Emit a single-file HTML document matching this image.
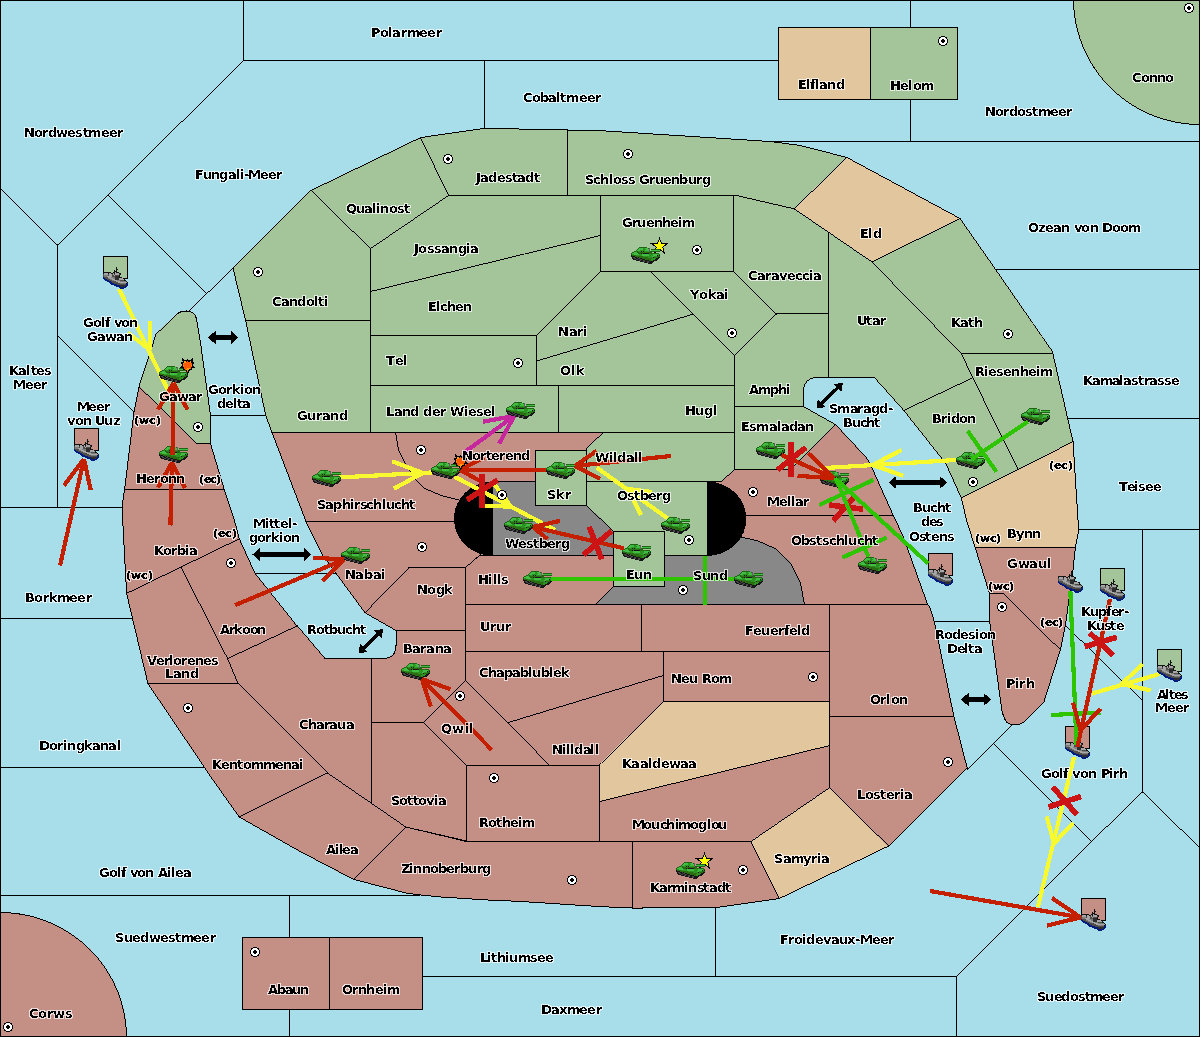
<!DOCTYPE html>
<html lang="de"><head><meta charset="utf-8"><title>Karte</title>
<style>
html,body{margin:0;padding:0;background:#a8ddea;overflow:hidden}
svg{display:block}
.b{stroke:#000;stroke-width:1;stroke-linejoin:miter;shape-rendering:crispEdges}
.sl{fill:none;stroke:#000;stroke-width:1;shape-rendering:crispEdges}
.t{font-family:"DejaVu Sans","Liberation Sans",sans-serif;font-stretch:normal;font-weight:bold;font-size:13px;}
.ts{font-family:"DejaVu Sans","Liberation Sans",sans-serif;font-stretch:normal;font-weight:bold;font-size:11px;}
.lb{fill:#000;filter:url(#lf)}
.lb2{fill:#000;filter:url(#lf2)}
.ar{fill:none;stroke-width:4.2;stroke-linecap:butt;shape-rendering:crispEdges}
.cx{fill:none;stroke:#cc1414;stroke-width:5.6;shape-rendering:crispEdges}
</style></head><body>
<svg width="1200" height="1037" viewBox="0 0 1200 1037">
<defs>
<g id="tk" shape-rendering="crispEdges"><path fill="#1e6414" d="M8,0h8v1h-8zM7,1h1v1h-1zM17,1h1v1h-1zM6,2h1v1h-1zM20,2h9v1h-9zM5,3h1v1h-1zM3,4h2v1h-2zM6,4h1v1h-1zM19,4h10v1h-10zM1,5h2v1h-2zM6,5h1v1h-1zM18,5h3v1h-3zM0,6h1v1h-1zM7,6h2v1h-2zM24,6h4v1h-4zM0,7h1v1h-1zM28,7h1v1h-1zM26,9h3v1h-3z"/><path fill="#42bd44" d="M8,1h4v1h-4zM14,1h3v1h-3zM7,2h5v1h-5zM15,2h3v1h-3zM6,3h3v1h-3zM14,3h4v1h-4zM20,3h9v1h-9zM3,5h3v1h-3zM1,6h6v1h-6zM3,7h5v1h-5zM11,7h7v1h-7zM22,7h5v1h-5zM11,8h7v1h-7zM22,8h4v1h-4zM21,9h2v1h-2z"/><path fill="#2c9222" d="M12,1h2v1h-2zM12,2h3v1h-3zM9,3h5v1h-5zM5,4h1v1h-1zM7,4h3v1h-3zM11,4h1v1h-1zM13,4h5v1h-5zM1,7h2v1h-2zM8,7h3v1h-3zM18,7h4v1h-4zM27,7h1v1h-1zM5,8h6v1h-6zM18,8h4v1h-4zM27,8h1v1h-1zM12,9h9v1h-9zM23,9h3v1h-3zM17,10h5v1h-5zM21,11h4v1h-4zM20,12h4v1h-4zM20,13h2v1h-2z"/><path fill="#6b5b6b" d="M18,1h1v1h-1zM18,2h1v1h-1zM18,3h1v1h-1zM18,4h1v1h-1z"/><path fill="#17171a" d="M10,4h1v1h-1zM12,4h1v1h-1zM10,6h1v1h-1zM12,6h6v1h-6zM0,8h1v1h-1zM26,8h1v1h-1zM28,8h1v1h-1zM0,9h4v1h-4zM1,10h1v1h-1zM4,10h2v1h-2zM7,10h1v1h-1zM22,10h1v1h-1zM27,10h2v1h-2zM1,11h2v1h-2zM5,11h2v1h-2zM9,11h2v1h-2zM25,11h3v1h-3zM2,12h3v1h-3zM7,12h2v1h-2zM11,12h3v1h-3zM24,12h3v1h-3zM5,13h3v1h-3zM10,13h2v1h-2zM14,13h4v1h-4zM22,13h4v1h-4zM9,14h3v1h-3zM14,14h2v1h-2zM18,14h5v1h-5zM13,15h3v1h-3zM18,15h4v1h-4zM17,16h4v1h-4z"/><path fill="#2b6e12" d="M7,5h11v1h-11zM9,6h1v1h-1zM11,6h1v1h-1zM18,6h6v1h-6zM1,8h4v1h-4zM4,9h8v1h-8zM8,10h9v1h-9zM23,10h4v1h-4zM11,11h10v1h-10zM14,12h6v1h-6zM18,13h2v1h-2z"/><path fill="#484848" d="M2,10h2v1h-2zM6,10h1v1h-1zM3,11h2v1h-2zM7,11h2v1h-2zM5,12h2v1h-2zM9,12h2v1h-2zM8,13h2v1h-2zM12,13h2v1h-2zM12,14h2v1h-2zM16,14h2v1h-2zM16,15h2v1h-2z"/></g>
<g id="sh" shape-rendering="crispEdges"><path fill="#141414" d="M13,0h1v1h-1zM13,1h1v1h-1zM13,2h2v1h-2zM11,3h1v1h-1zM13,3h1v1h-1zM11,4h3v1h-3zM0,5h8v1h-8zM10,5h2v1h-2zM13,5h3v1h-3zM0,6h1v1h-1zM5,6h1v1h-1zM8,6h2v1h-2zM11,6h1v1h-1zM16,6h2v1h-2zM17,7h1v1h-1zM16,8h1v1h-1zM16,9h1v1h-1zM16,10h3v1h-3zM20,11h2v1h-2zM21,12h1v1h-1zM21,13h2v1h-2zM23,14h1v1h-1zM24,15h1v1h-1zM23,16h1v1h-1z"/><path fill="#a6a6a6" d="M12,5h1v1h-1zM1,6h4v1h-4zM6,6h2v1h-2zM10,6h1v1h-1zM12,6h4v1h-4zM1,7h4v1h-4zM6,7h3v1h-3zM10,7h1v1h-1zM12,7h4v1h-4zM6,8h3v1h-3zM11,8h1v1h-1zM4,9h5v1h-5zM5,10h3v1h-3zM7,11h3v1h-3zM16,11h4v1h-4zM9,12h3v1h-3zM16,12h5v1h-5zM11,13h3v1h-3zM13,14h4v1h-4zM15,15h9v1h-9z"/><path fill="#504c48" d="M0,7h1v1h-1zM5,7h1v1h-1zM9,7h1v1h-1zM11,7h1v1h-1zM16,7h1v1h-1zM0,8h1v1h-1zM5,8h1v1h-1zM9,8h2v1h-2zM12,8h4v1h-4zM0,9h1v1h-1zM9,9h3v1h-3zM1,10h4v1h-4zM2,11h3v1h-3zM4,12h3v1h-3zM6,13h3v1h-3zM17,13h4v1h-4zM8,14h5v1h-5zM9,15h6v1h-6zM11,16h6v1h-6zM14,17h9v1h-9z"/><path fill="#7c7c7c" d="M1,8h4v1h-4zM1,9h3v1h-3zM8,10h4v1h-4zM5,11h2v1h-2zM10,11h2v1h-2zM7,12h2v1h-2zM9,13h2v1h-2zM14,13h3v1h-3zM17,14h6v1h-6zM17,16h6v1h-6z"/><path fill="#2e2e2e" d="M12,9h4v1h-4zM12,10h4v1h-4zM12,11h4v1h-4zM12,12h4v1h-4zM17,18h6v1h-6zM17,19h5v1h-5z"/><path fill="#001c80" d="M0,10h1v1h-1zM0,11h2v1h-2zM1,12h3v1h-3zM2,13h4v1h-4zM4,14h4v1h-4zM6,15h3v1h-3zM7,16h4v1h-4zM24,16h1v1h-1zM8,17h6v1h-6zM23,17h2v1h-2zM11,18h6v1h-6zM23,18h2v1h-2zM13,19h4v1h-4zM22,19h2v1h-2zM16,20h7v1h-7zM17,21h4v1h-4z"/></g>
<g id="sc" shape-rendering="crispEdges"><circle r="4.5" fill="#fff" stroke="#000" stroke-width="1"/><path d="M-1,-2h2v1h1v2h-1v1h-2v-1h-1v-2h1z" fill="#000"/></g>
<path id="st" d="M0,-7.9 L2,-2.6 L7.9,-2.6 L3.2,0.9 L4.9,6.6 L0,3.1 L-4.9,6.6 L-3.2,0.9 L-7.9,-2.6 L-2,-2.6 Z" fill="#ffff00" stroke="#000" stroke-width="1" stroke-linejoin="miter" shape-rendering="crispEdges"/>
<g id="bm" shape-rendering="crispEdges"><path fill="#000000" d="M2,0h1v1h-1zM12,0h1v1h-1zM2,1h2v1h-2zM7,1h1v1h-1zM11,1h2v1h-2zM2,2h11v1h-11zM3,3h1v1h-1zM6,3h1v1h-1zM8,3h2v1h-2zM11,3h2v1h-2zM1,4h3v1h-3zM11,4h3v1h-3zM1,5h2v1h-2zM12,5h2v1h-2zM2,6h1v1h-1zM12,6h1v1h-1zM2,7h1v1h-1zM12,7h1v1h-1zM1,8h2v1h-2zM12,8h2v1h-2zM0,9h4v1h-4zM11,9h4v1h-4zM3,10h1v1h-1zM11,10h1v1h-1zM3,11h2v1h-2zM9,11h3v1h-3zM6,12h1v1h-1zM8,12h2v1h-2zM6,13h1v1h-1zM8,13h1v1h-1zM7,14h2v1h-2zM7,15h1v1h-1z"/><path fill="#ffa010" d="M4,3h2v1h-2zM10,3h1v1h-1zM4,4h2v1h-2zM10,4h1v1h-1zM3,5h1v1h-1zM3,7h1v1h-1zM11,7h1v1h-1zM7,10h3v1h-3zM6,11h3v1h-3zM7,12h1v1h-1z"/><path fill="#ff5a00" d="M7,3h1v1h-1zM6,4h4v1h-4zM4,5h8v1h-8zM3,6h9v1h-9zM4,7h7v1h-7zM3,8h9v1h-9zM4,9h7v1h-7zM4,10h3v1h-3zM10,10h1v1h-1zM5,11h1v1h-1zM7,13h1v1h-1z"/></g>
<filter id="lf" x="0" y="0" width="1200" height="1037" filterUnits="userSpaceOnUse" color-interpolation-filters="sRGB">
<feComponentTransfer in="SourceAlpha" result="a"><feFuncA type="discrete" tableValues="0 0 0 0 0 0 0 0 0 0 0 0 1 1 1 1 1 1 1 1"/></feComponentTransfer>
<feMorphology in="a" operator="dilate" radius="1" result="d"/>
<feFlood flood-color="#ffffff" flood-opacity="0.7"/><feComposite in2="d" operator="in" result="h"/>
<feMerge><feMergeNode in="h"/><feMergeNode in="a"/></feMerge>
</filter>
<filter id="lf2" x="0" y="0" width="1200" height="1037" filterUnits="userSpaceOnUse" color-interpolation-filters="sRGB">
<feComponentTransfer in="SourceAlpha" result="a"><feFuncA type="discrete" tableValues="0 0 0 0 0 0 0 0 1 1 1 1 1 1 1 1 1 1 1 1"/></feComponentTransfer>
<feMorphology in="a" operator="dilate" radius="1" result="d"/>
<feFlood flood-color="#ffffff" flood-opacity="0.7"/><feComposite in2="d" operator="in" result="h"/>
<feMerge><feMergeNode in="h"/><feMergeNode in="a"/></feMerge>
</filter>
</defs>
<rect x="0" y="0" width="1200" height="1037" fill="#a8ddea"/>
<path fill="#000" shape-rendering="crispEdges" d="M243,-0.5L244,-0.5L244,61L243,61ZM243,60L779,60L779,61L243,61ZM57,245L244,59.5L244,60.5L57,246ZM-0.5,187.51L58,244.99L58,245.99L-0.5,188.51ZM57,244.5L58,244.5L58,508L57,508ZM-0.5,507L124,507L124,508L-0.5,508ZM107.5,194L206.8,293.3L206.8,294.3L107.5,195ZM187.63,311.94L233.5,267.01L233.5,268.01L187.63,312.94ZM57,335L134.5,412L134.5,413L57,336ZM208.5,415L267.7,415L267.7,416L208.5,416ZM254.5,573L338,573L338,574L254.5,574ZM-0.5,618L134,618L134,619L-0.5,619ZM-0.5,767L206,767L206,768L-0.5,768ZM-0.5,895L419.5,895L419.5,896L-0.5,896ZM289,895L290,895L290,938L289,938ZM289,1007.5L290,1007.5L290,1036.5L289,1036.5ZM420.5,976L957,976L957,977L420.5,977ZM715,905.5L716,905.5L716,977L715,977ZM956,976L957,976L957,1036.5L956,1036.5ZM956,976.5L1092.2,840.4L1092.2,841.4L956,977.5ZM1091.2,841.39L1143,791.01L1143,792.01L1091.2,842.39ZM1142,529L1143,529L1143,792.5L1142,792.5ZM1142,791.01L1200.5,847.99L1200.5,848.99L1142,792.01ZM1077,529L1200.5,529L1200.5,530L1077,530ZM1066,418L1200.5,418L1200.5,419L1066,419ZM994.5,269L1200.5,269L1200.5,270L994.5,270ZM768,141L1200.5,141L1200.5,142L768,142ZM910,-0.5L911,-0.5L911,28L910,28ZM910,97.5L911,97.5L911,142L910,142ZM484,60L485,60L485,129L484,129ZM1063.83,623.26L1143,700.49L1143,701.49L1063.83,624.26ZM966.5,769.99L1013.57,723.46L1013.57,724.46L966.5,770.99ZM993,742.8L1092.2,841.4L1092.2,842.4L993,743.8ZM932.3,621L991.5,621L991.5,622L932.3,622ZM868,463L930.5,463L930.5,464L868,464Z"/>
<g shape-rendering="crispEdges" stroke-width="1" stroke-linejoin="round">
<polygon fill="#a4c499" stroke="#a4c499" points="233,268 311,190.5 370.5,248.6 370.5,320.5 245.6,320.5"/>
<polygon fill="#a4c499" stroke="#a4c499" points="311,190.5 420.5,137.6 448.6,195.5 370.5,248.6"/>
<polygon fill="#a4c499" stroke="#a4c499" points="420.5,137.6 484.7,128.3 567.5,130 567.5,195.5 448.6,195.5"/>
<polygon fill="#a4c499" stroke="#a4c499" points="567.5,130 600,130.6 700,137 770,141.5 800,145.4 847,157.5 794.2,208.8 736.6,195.5 567.5,195.5"/>
<polygon fill="#e2c69e" stroke="#e2c69e" points="847,157.5 960,218.5 872,262 794.2,208.8"/>
<polygon fill="#a4c499" stroke="#a4c499" points="370.5,248.6 448.6,195.5 600.5,195.5 600.5,235.5 370.5,291.5"/>
<polygon fill="#a4c499" stroke="#a4c499" points="370.5,291.5 600.5,235.5 600.5,271.5 536.5,335.5 370.5,335.5"/>
<polygon fill="#a4c499" stroke="#a4c499" points="600.5,195.5 733.5,195.5 733.5,271.5 600.5,271.5"/>
<polygon fill="#a4c499" stroke="#a4c499" points="370.5,335.5 536.5,335.5 536.5,385.5 370.5,385.5"/>
<polygon fill="#a4c499" stroke="#a4c499" points="536.5,335.5 600.5,271.5 650,271.5 692.93,314.27 536.5,361"/>
<polygon fill="#a4c499" stroke="#a4c499" points="536.5,361 692.93,314.27 734.5,355.7 734.5,385.5 536.5,385.5"/>
<polygon fill="#a4c499" stroke="#a4c499" points="650,271.5 733.5,271.5 776.2,313.9 734.5,355.7"/>
<polygon fill="#a4c499" stroke="#a4c499" points="733.5,195.5 736.6,195.5 794.2,208.8 828.52,232.27 828.5,313.9 776.2,313.9 733.5,271.5"/>
<polygon fill="#a4c499" stroke="#a4c499" points="776.2,313.9 828.5,313.9 828.5,377.5 818,377.5 814.6,377.73 811.66,378.41 809.16,379.54 807.12,381.12 805.54,383.16 804.41,385.66 803.73,388.6 803.5,392 803.5,406.5 734.5,406.5 734.5,355.7"/>
<polygon fill="#a4c499" stroke="#a4c499" points="828.52,232.27 872,262 961.4,353.5 972.7,377.8 903.8,410.4 874.4,377.5 828.5,377.5"/>
<polygon fill="#a4c499" stroke="#a4c499" points="872,262 960,218.5 989,260 1052.4,351.5 1052.8,353.5 961.4,353.5"/>
<polygon fill="#a4c499" stroke="#a4c499" points="961.4,353.5 1052.8,353.5 1073,441.7 1018.3,469.3 972.7,377.8"/>
<polygon fill="#a4c499" stroke="#a4c499" points="972.7,377.8 1018.3,469.3 961.4,498 946.5,465 941.5,458 903.8,410.4"/>
<polygon fill="#e2c69e" stroke="#e2c69e" points="1073,441.7 1078,520 1078.7,530 1075.4,547.5 975.2,547.5 966.4,520 961.4,498 1018.3,469.3"/>
<polygon fill="#a4c499" stroke="#a4c499" points="245.6,320.5 370.5,320.5 370.5,432.5 272,432.5 265.7,415.4"/>
<polygon fill="#a4c499" stroke="#a4c499" points="370.5,385.5 558.5,385.5 558.5,432.5 370.5,432.5"/>
<polygon fill="#a4c499" stroke="#a4c499" points="558.5,385.5 734.5,385.5 734.5,432.5 558.5,432.5"/>
<polygon fill="#a4c499" stroke="#a4c499" points="734.5,406.5 803.5,406.5 835.6,424.7 791,469.5 734.5,469.5"/>
<polygon fill="#a4c499" stroke="#a4c499" points="603.3,432.5 734.5,432.5 734.5,469.5 721.6,481.5 586.5,481.5 586.5,448.3"/>
<polygon fill="#a4c499" stroke="#a4c499" points="586.5,481.5 707,481.5 707,555.5 664.5,555.5 664.5,531.5 613.5,531.5 586.5,505.5"/>
<polygon fill="#a4c499" stroke="#a4c499" points="139,386.6 156,334.4 177,314 178.02,313.3 179.06,312.69 180.14,312.17 181.25,311.75 182.39,311.42 183.56,311.19 184.77,311.05 186,311 188.14,311.14 190.04,311.56 191.72,312.27 193.18,313.25 194.4,314.52 195.39,316.06 196.16,317.89 196.7,320 200.5,342.7 210.5,415.4 210.5,443.5 196.7,443.5"/>
<polygon fill="#e2c69e" stroke="#e2c69e" points="778.5,27.5 870.5,27.5 870.5,99.5 778.5,99.5"/>
<polygon fill="#a4c499" stroke="#a4c499" points="870.5,27.5 957.5,27.5 957.5,99.5 870.5,99.5"/>
<polygon fill="#a4c499" stroke="#a4c499" points="1073.5,-1 1073.67,5.57 1074.19,12.12 1075.06,18.63 1076.26,25.09 1077.81,31.48 1079.69,37.78 1081.9,43.98 1084.44,50.05 1087.29,55.98 1090.45,61.75 1093.91,67.35 1097.66,72.77 1101.69,77.98 1105.99,82.98 1110.55,87.74 1115.35,92.26 1120.39,96.53 1125.65,100.53 1131.1,104.25 1136.75,107.69 1142.57,110.82 1148.55,113.65 1154.67,116.16 1160.91,118.36 1167.26,120.22 1173.7,121.76 1180.21,122.95 1186.78,123.81 1193.38,124.33 1200,124.5 1201,124.5 1201,-1"/>
<polygon fill="#c48f85" stroke="#c48f85" points="139,386.6 196.7,443.5 210.5,443.5 224.3,489.5 124.6,489.5 134,412"/>
<polygon fill="#c48f85" stroke="#c48f85" points="124.6,489.5 224.3,489.5 234.3,520 239.3,538.8 126.6,593.4 122,507"/>
<polygon fill="#c48f85" stroke="#c48f85" points="180.94,567.07 239.3,538.8 255,573.4 297,626 227.6,658.6"/>
<polygon fill="#c48f85" stroke="#c48f85" points="126.6,593.4 180.94,567.07 227.6,658.6 238,683.5 147.9,683.5"/>
<polygon fill="#c48f85" stroke="#c48f85" points="147.9,683.5 238,683.5 327.5,773 239.3,817 213,780"/>
<polygon fill="#c48f85" stroke="#c48f85" points="227.6,658.6 297,626 300,629 325,658.5 371.5,658.5 371.34,803.23 327.5,773 238,683.5"/>
<polygon fill="#c48f85" stroke="#c48f85" points="239.3,817 327.5,773 405.8,827 353.4,879.3 300,851.4"/>
<polygon fill="#c48f85" stroke="#c48f85" points="371.5,722.5 423.6,722.5 466.5,765 466.5,841 405.8,827 371.34,803.23"/>
<polygon fill="#c48f85" stroke="#c48f85" points="371.5,658.5 383,658.5 386.05,658.29 388.69,657.66 390.92,656.6 392.75,655.12 394.17,653.23 395.19,650.91 395.8,648.16 396,645 396,630.5 465.5,630.5 465.5,680.4 423.6,722.5 371.5,722.5"/>
<polygon fill="#c48f85" stroke="#c48f85" points="409,567.5 465.5,567.5 465.5,630.5 396,630.5 365,612.7"/>
<polygon fill="#c48f85" stroke="#c48f85" points="306,521.5 492.5,521.5 492.5,555.5 480,555 465.5,567.5 409,567.5 365,612.7 322.5,555"/>
<polygon fill="#c48f85" stroke="#c48f85" points="272,432.5 603.3,432.5 586.5,448.3 586.5,450.5 535.5,450.5 535.5,481.5 492.5,481.5 492.5,521.5 306,521.5"/>
<polygon fill="#888888" stroke="#888888" points="492.5,481.5 535.5,481.5 535.5,505.5 586.5,505.5 613.5,531.5 613.5,555.5 492.5,555.5"/>
<polygon fill="#a4c499" stroke="#a4c499" points="535.5,450.5 586.5,450.5 586.5,505.5 535.5,505.5"/>
<polygon fill="#c48f85" stroke="#c48f85" points="479.75,555.21 613.5,555.5 613.5,586.5 596,604.5 465.5,604.5 465.5,567.5"/>
<polygon fill="#c48f85" stroke="#c48f85" points="734.5,469.5 791,469.5 835.6,424.7 866.3,457.5 870,463.5 893.3,515.5 745,515.5 708,481.5 721.6,481.5"/>
<polygon fill="#c48f85" stroke="#c48f85" points="745,515.5 893.3,515.5 903.3,536.7 927.6,604.5 804.5,604.5 800.5,583.2 790.6,563.1 775.7,548.8 758,541 741,537"/>
<polygon fill="#888888" stroke="#888888" points="664.5,555.5 707,555.5 707,537 741,537 758,541 775.7,548.8 790.6,563.1 800.5,583.2 804.5,604.5 596,604.5 613.5,586.5 664.5,586.5"/>
<polygon fill="#a4c499" stroke="#a4c499" points="613.5,531.5 664.5,531.5 664.5,586.5 613.5,586.5"/>
<polygon fill="#c48f85" stroke="#c48f85" points="465.5,604.5 641.5,604.5 641.5,651.5 465.5,651.5"/>
<polygon fill="#c48f85" stroke="#c48f85" points="641.5,604.5 829.5,604.5 829.5,651.5 641.5,651.5"/>
<polygon fill="#c48f85" stroke="#c48f85" points="465.5,651.5 663.5,651.5 663.5,675.4 507.5,722.75 465.5,680.4"/>
<polygon fill="#c48f85" stroke="#c48f85" points="663.5,651.5 829.5,651.5 829.5,701.5 663.5,701.5"/>
<polygon fill="#c48f85" stroke="#c48f85" points="507.5,722.75 663.5,675.4 663.5,701.5 599.5,765 549.4,765"/>
<polygon fill="#c48f85" stroke="#c48f85" points="465.5,680.4 549.4,765 466.5,765 423.6,722.5"/>
<polygon fill="#c48f85" stroke="#c48f85" points="466.5,765 599.5,765 599.5,841.5 466.5,841.5"/>
<polygon fill="#e2c69e" stroke="#e2c69e" points="663.5,701.5 829.5,701.5 829.5,745.6 599.5,801.5 599.5,765"/>
<polygon fill="#c48f85" stroke="#c48f85" points="599.5,801.5 829.5,745.6 829.5,787.8 751,841.5 599.5,841.5"/>
<polygon fill="#c48f85" stroke="#c48f85" points="405.8,827 466.5,841.5 632.5,841.5 632.5,908 600,906.6 520,901.4 488,900 440.8,897 418.7,894.8 406,893 353.4,879.3"/>
<polygon fill="#c48f85" stroke="#c48f85" points="632.5,841.5 751,841.5 779.2,898.6 717.8,907.3 642.6,908 632.5,908"/>
<polygon fill="#e2c69e" stroke="#e2c69e" points="751,841.5 829.5,787.8 888.7,846 779.2,898.6"/>
<polygon fill="#c48f85" stroke="#c48f85" points="829.5,604.5 927.6,604.5 930,607.7 934.3,621.5 953.9,716.5 829.5,716.5"/>
<polygon fill="#c48f85" stroke="#c48f85" points="829.5,716.5 953.9,716.5 967.2,768 888.7,846 829.5,787.8"/>
<polygon fill="#c48f85" stroke="#c48f85" points="975.2,547.5 1075.4,547.5 1073,570 1065.4,625.3 1060.4,649.8 1003.3,593.5 989.5,593.5"/>
<polygon fill="#c48f85" stroke="#c48f85" points="989.5,593.5 1003.3,593.5 1060.4,649.8 1044,701.7 1024,722 1021.54,723.31 1019.16,724.25 1016.85,724.81 1014.62,725 1012.48,724.81 1010.41,724.25 1008.41,723.31 1006.5,722 1005.66,720.69 1004.88,719.25 1004.16,717.69 1003.5,716 1002.91,714.19 1002.38,712.25 1001.91,710.19 1001.5,708 989.5,620"/>
<polygon fill="#c48f85" stroke="#c48f85" points="242.5,937.5 329.5,937.5 329.5,1009.5 242.5,1009.5"/>
<polygon fill="#c48f85" stroke="#c48f85" points="329.5,937.5 422.5,937.5 422.5,1009.5 329.5,1009.5"/>
<polygon fill="#c48f85" stroke="#c48f85" points="-1,912.5 0,912.5 6.62,912.67 13.22,913.18 19.79,914.04 26.3,915.23 32.74,916.76 39.09,918.62 45.33,920.8 51.45,923.31 57.43,926.12 63.25,929.25 68.9,932.67 74.35,936.37 79.61,940.36 84.65,944.61 89.45,949.11 94.01,953.86 98.31,958.83 102.34,964.03 106.09,969.42 109.55,975 112.71,980.75 115.56,986.66 118.1,992.7 120.31,998.87 122.19,1005.15 123.74,1011.51 124.94,1017.95 125.81,1024.43 126.33,1030.96 126.5,1037.5 -1,1037.5"/>
</g>
<path fill="#000" shape-rendering="crispEdges" d="M232.5,268L311.5,189.5L311.5,190.5L232.5,269ZM310.5,189.51L371,248.59L371,249.59L310.5,190.51ZM370,248.1L371,248.1L371,321L370,321ZM245.1,320L371,320L371,321L245.1,321ZM232.38,267.5L233.38,267.5L246.22,321L245.22,321ZM310.5,190.24L421,136.86L421,137.86L310.5,191.24ZM419.76,137.1L420.76,137.1L449.34,196L448.34,196ZM370,248.44L449.1,194.66L449.1,195.66L370,249.44ZM420,137.17L485.2,127.73L485.2,128.73L420,138.17ZM484.2,127.79L568,129.51L568,130.51L484.2,128.79ZM567,129.5L568,129.5L568,196L567,196ZM448.1,195L568,195L568,196L448.1,196ZM567,129.49L600.5,130.11L600.5,131.11L567,130.49ZM599.5,130.07L700.5,136.53L700.5,137.53L599.5,131.07ZM699.5,136.47L770.5,141.03L770.5,142.03L699.5,137.47ZM769.5,140.94L800.5,144.97L800.5,145.97L769.5,141.94ZM799.5,144.77L847.5,157.13L847.5,158.13L799.5,145.77ZM793.7,208.79L847.5,156.51L847.5,157.51L793.7,209.79ZM736.1,194.88L794.7,208.42L794.7,209.42L736.1,195.88ZM567,195L737.1,195L737.1,196L567,196ZM846.5,156.73L960.5,218.27L960.5,219.27L846.5,157.73ZM871.5,261.75L960.5,217.75L960.5,218.75L871.5,262.75ZM793.7,207.96L872.5,261.84L872.5,262.84L793.7,208.96ZM448.1,195L601,195L601,196L448.1,196ZM600,195L601,195L601,236L600,236ZM370,291.12L601,234.88L601,235.88L370,292.12ZM370,248.1L371,248.1L371,292L370,292ZM600,235L601,235L601,272L600,272ZM536,335.5L601,270.5L601,271.5L536,336.5ZM370,335L537,335L537,336L370,336ZM370,291L371,291L371,336L370,336ZM600,195L734,195L734,196L600,196ZM733,195L734,195L734,272L733,272ZM600,271L734,271L734,272L600,272ZM600,195L601,195L601,272L600,272ZM536,335L537,335L537,386L536,386ZM370,385L537,385L537,386L370,386ZM370,335L371,335L371,386L370,386ZM600,271L650.5,271L650.5,272L600,272ZM649.5,270.5L693.43,314.27L693.43,315.27L649.5,271.5ZM536,360.65L693.43,313.62L693.43,314.62L536,361.65ZM536,335L537,335L537,361.5L536,361.5ZM692.43,313.27L735,355.7L735,356.7L692.43,314.27ZM734,355.2L735,355.2L735,386L734,386ZM536,385L735,385L735,386L536,386ZM536,360.5L537,360.5L537,386L536,386ZM649.5,271L734,271L734,272L649.5,272ZM733,270.5L776.7,313.9L776.7,314.9L733,271.5ZM776.2,313.4L777.2,313.4L734.5,356.2L733.5,356.2ZM649.5,270.5L735,355.7L735,356.7L649.5,271.5ZM733,195L737.1,195L737.1,196L733,196ZM793.7,207.96L829.02,232.11L829.02,233.11L793.7,208.96ZM828.02,231.77L829.02,231.77L829,314.4L828,314.4ZM775.7,313.4L829,313.4L829,314.4L775.7,314.4ZM828,313.4L829,313.4L829,378L828,378ZM817.5,377L829,377L829,378L817.5,378ZM814.1,377.26L818.5,376.97L818.5,377.97L814.1,378.26ZM811.16,378.03L815.1,377.11L815.1,378.11L811.16,379.03ZM808.66,379.27L812.16,377.68L812.16,378.68L808.66,380.27ZM806.62,381.01L809.66,378.65L809.66,379.65L806.62,382.01ZM807.01,380.62L808.01,380.62L805.65,383.66L804.65,383.66ZM805.27,382.66L806.27,382.66L804.68,386.16L803.68,386.16ZM804.03,385.16L805.03,385.16L804.11,389.1L803.11,389.1ZM803.26,388.1L804.26,388.1L803.97,392.5L802.97,392.5ZM803,391.5L804,391.5L804,407L803,407ZM734,406L804,406L804,407L734,407ZM734,355.2L735,355.2L735,407L734,407ZM828.02,231.43L872.5,261.84L872.5,262.84L828.02,232.43ZM871.01,261.5L872.01,261.5L962.39,354L961.39,354ZM960.67,353L961.67,353L973.43,378.3L972.43,378.3ZM903.3,410.14L973.2,377.06L973.2,378.06L903.3,411.14ZM873.45,377L874.45,377L904.75,410.9L903.75,410.9ZM828,377L874.9,377L874.9,378L828,378ZM828.02,231.77L829.02,231.77L829,378L828,378ZM959.15,218L960.15,218L989.85,260.5L988.85,260.5ZM988.15,259.5L989.15,259.5L1053.25,352L1052.25,352ZM1051.8,351L1052.8,351L1053.4,354L1052.4,354ZM960.9,353L1053.3,353L1053.3,354L960.9,354ZM1052.19,353L1053.19,353L1073.61,442.2L1072.61,442.2ZM1017.8,469.05L1073.5,440.95L1073.5,441.95L1017.8,470.05ZM971.95,377.3L972.95,377.3L1019.05,469.8L1018.05,469.8ZM960.9,497.75L1018.8,468.55L1018.8,469.55L960.9,498.75ZM945.77,464.5L946.77,464.5L962.13,498.5L961.13,498.5ZM940.64,457.5L941.64,457.5L947.36,465.5L946.36,465.5ZM902.9,409.9L903.9,409.9L942.4,458.5L941.4,458.5ZM1072.47,441.2L1073.47,441.2L1078.53,520.5L1077.53,520.5ZM1077.46,519.5L1078.46,519.5L1079.24,530.5L1078.24,530.5ZM1078.29,529.5L1079.29,529.5L1075.81,548L1074.81,548ZM974.7,547L1075.9,547L1075.9,548L974.7,548ZM965.74,519.5L966.74,519.5L975.86,548L974.86,548ZM960.79,497.5L961.79,497.5L967.01,520.5L966.01,520.5ZM370,320L371,320L371,433L370,433ZM271.5,432L371,432L371,433L271.5,433ZM265.02,414.9L266.02,414.9L272.68,433L271.68,433ZM244.99,320L245.99,320L266.31,415.9L265.31,415.9ZM370,385L559,385L559,386L370,386ZM558,385L559,385L559,433L558,433ZM370,432L559,432L559,433L370,433ZM370,385L371,385L371,433L370,433ZM558,385L735,385L735,386L558,386ZM734,385L735,385L735,433L734,433ZM558,432L735,432L735,433L558,433ZM803,405.72L836.1,424.48L836.1,425.48L803,406.72ZM835.6,424.2L836.6,424.2L791,470L790,470ZM734,469L791.5,469L791.5,470L734,470ZM734,406L735,406L735,470L734,470ZM602.8,432L735,432L735,433L602.8,433ZM734,432L735,432L735,470L734,470ZM721.1,481.47L735,468.53L735,469.53L721.1,482.47ZM586,481L722.1,481L722.1,482L586,482ZM586,447.8L587,447.8L587,482L586,482ZM586,448.27L603.8,431.53L603.8,432.53L586,449.27ZM586,481L707.5,481L707.5,482L586,482ZM706.5,481L707.5,481L707.5,556L706.5,556ZM664,555L707.5,555L707.5,556L664,556ZM664,531L665,531L665,556L664,556ZM613,531L665,531L665,532L613,532ZM586,504.52L614,531.48L614,532.48L586,505.52ZM586,481L587,481L587,506L586,506ZM155.66,333.9L156.66,333.9L139.34,387.1L138.34,387.1ZM155.5,334.39L177.5,313.01L177.5,314.01L155.5,335.39ZM176.5,313.84L178.52,312.46L178.52,313.46L176.5,314.84ZM177.52,313.09L179.56,311.9L179.56,312.9L177.52,314.09ZM178.56,312.43L180.64,311.43L180.64,312.43L178.56,313.43ZM179.64,311.86L181.75,311.06L181.75,312.06L179.64,312.86ZM180.75,311.39L182.89,310.78L182.89,311.78L180.75,312.39ZM181.89,311.02L184.06,310.59L184.06,311.59L181.89,312.02ZM183.06,310.75L185.27,310.49L185.27,311.49L183.06,311.75ZM184.27,310.57L186.5,310.48L186.5,311.48L184.27,311.57ZM185.5,310.47L188.64,310.67L188.64,311.67L185.5,311.47ZM187.64,310.53L190.54,311.17L190.54,312.17L187.64,311.53ZM189.54,310.85L192.22,311.98L192.22,312.98L189.54,311.85ZM191.22,311.43L193.68,313.09L193.68,314.09L191.22,312.43ZM192.2,312.75L193.2,312.75L195.38,315.02L194.38,315.02ZM193.58,314.02L194.58,314.02L196.21,316.56L195.21,316.56ZM194.68,315.56L195.68,315.56L196.87,318.39L195.87,318.39ZM195.53,317.39L196.53,317.39L197.33,320.5L196.33,320.5ZM196.12,319.5L197.12,319.5L201.08,343.2L200.08,343.2ZM199.93,342.2L200.93,342.2L211.07,415.9L210.07,415.9ZM210,414.9L211,414.9L211,444L210,444ZM196.2,443L211,443L211,444L196.2,444ZM138.5,385.61L197.2,443.49L197.2,444.49L138.5,386.61ZM778,27L871,27L871,28L778,28ZM870,27L871,27L871,100L870,100ZM778,99L871,99L871,100L778,100ZM778,27L779,27L779,100L778,100ZM870,27L958,27L958,28L870,28ZM957,27L958,27L958,100L957,100ZM870,99L958,99L958,100L870,100ZM1072.99,-1.5L1073.99,-1.5L1074.18,6.07L1073.18,6.07ZM1073.13,5.07L1074.13,5.07L1074.73,12.62L1073.73,12.62ZM1073.62,11.62L1074.62,11.62L1075.63,19.13L1074.63,19.13ZM1074.47,18.13L1075.47,18.13L1076.85,25.59L1075.85,25.59ZM1075.64,24.59L1076.64,24.59L1078.43,31.98L1077.43,31.98ZM1077.16,30.98L1078.16,30.98L1080.34,38.28L1079.34,38.28ZM1079.01,37.28L1080.01,37.28L1082.58,44.48L1081.58,44.48ZM1081.19,43.48L1082.19,43.48L1085.15,50.55L1084.15,50.55ZM1083.7,49.55L1084.7,49.55L1088.03,56.48L1087.03,56.48ZM1086.52,55.48L1087.52,55.48L1091.22,62.25L1090.22,62.25ZM1089.64,61.25L1090.64,61.25L1094.72,67.85L1093.72,67.85ZM1093.06,66.85L1094.06,66.85L1098.51,73.27L1097.51,73.27ZM1096.77,72.27L1097.77,72.27L1102.58,78.48L1101.58,78.48ZM1100.76,77.48L1101.76,77.48L1106.92,83.48L1105.92,83.48ZM1105.01,82.48L1106.01,82.48L1111.53,88.24L1110.53,88.24ZM1110.05,86.77L1115.85,92.23L1115.85,93.23L1110.05,87.77ZM1114.85,91.34L1120.89,96.45L1120.89,97.45L1114.85,92.34ZM1119.89,95.65L1126.15,100.41L1126.15,101.41L1119.89,96.65ZM1125.15,99.69L1131.6,104.09L1131.6,105.09L1125.15,100.69ZM1130.6,103.45L1137.25,107.49L1137.25,108.49L1130.6,104.45ZM1136.25,106.92L1143.07,110.59L1143.07,111.59L1136.25,107.92ZM1142.07,110.08L1149.05,113.39L1149.05,114.39L1142.07,111.08ZM1148.05,112.94L1155.17,115.87L1155.17,116.87L1148.05,113.94ZM1154.17,115.48L1161.41,118.04L1161.41,119.04L1154.17,116.48ZM1160.41,117.71L1167.76,119.87L1167.76,120.87L1160.41,118.71ZM1166.76,119.6L1174.2,121.38L1174.2,122.38L1166.76,120.6ZM1173.2,121.17L1180.71,122.54L1180.71,123.54L1173.2,122.17ZM1179.71,122.38L1187.28,123.38L1187.28,124.38L1179.71,123.38ZM1186.28,123.27L1193.88,123.87L1193.88,124.87L1186.28,124.27ZM1192.88,123.82L1200.5,124.01L1200.5,125.01L1192.88,124.82ZM1199.5,124L1201.5,124L1201.5,125L1199.5,125ZM1200.5,-1.5L1201.5,-1.5L1201.5,125L1200.5,125ZM1073,-1.5L1201.5,-1.5L1201.5,-0.5L1073,-0.5ZM209.85,443L210.85,443L224.95,490L223.95,490ZM124.1,489L224.8,489L224.8,490L124.1,490ZM133.56,411.5L134.56,411.5L125.04,490L124.04,490ZM138.6,386.1L139.6,386.1L134.4,412.5L133.4,412.5ZM223.64,489L224.64,489L234.96,520.5L233.96,520.5ZM233.67,519.5L234.67,519.5L239.93,539.3L238.93,539.3ZM126.1,593.14L239.8,538.06L239.8,539.06L126.1,594.14ZM121.47,506.5L122.47,506.5L127.13,593.9L126.13,593.9ZM124.17,489L125.17,489L122.43,507.5L121.43,507.5ZM180.44,566.81L239.8,538.06L239.8,539.06L180.44,567.81ZM238.57,538.3L239.57,538.3L255.73,573.9L254.73,573.9ZM254.1,572.9L255.1,572.9L297.9,626.5L296.9,626.5ZM227.1,658.33L297.5,625.27L297.5,626.27L227.1,659.33ZM180.19,566.57L181.19,566.57L228.35,659.1L227.35,659.1ZM126.1,593.14L181.44,566.33L181.44,567.33L126.1,594.14ZM226.89,658.1L227.89,658.1L238.71,684L237.71,684ZM147.4,683L238.5,683L238.5,684L147.4,684ZM125.98,592.9L126.98,592.9L148.52,684L147.52,684ZM237.5,682.5L328,773L328,774L237.5,683.5ZM238.8,816.75L328,772.25L328,773.25L238.8,817.75ZM212.14,779.5L213.14,779.5L240.16,817.5L239.16,817.5ZM147.06,683L148.06,683L213.84,780.5L212.84,780.5ZM296.5,625L300.5,629L300.5,630L296.5,626ZM299.08,628.5L300.08,628.5L325.92,659L324.92,659ZM324.5,658L372,658L372,659L324.5,659ZM371,658L372,658L371.84,803.73L370.84,803.73ZM327,772.16L371.84,803.07L371.84,804.07L327,773.16ZM327,772.16L406.3,826.84L406.3,827.84L327,773.16ZM352.9,879.3L406.3,826L406.3,827L352.9,880.3ZM299.5,850.64L353.9,879.06L353.9,880.06L299.5,851.64ZM238.8,816.22L300.5,851.18L300.5,852.18L238.8,817.22ZM371,722L424.1,722L424.1,723L371,723ZM423.1,721.5L467,765L467,766L423.1,722.5ZM466,764.5L467,764.5L467,841.5L466,841.5ZM405.3,826.38L467,840.62L467,841.62L405.3,827.38ZM370.84,802.39L406.3,826.84L406.3,827.84L370.84,803.39ZM371,722L372,722L371.84,803.73L370.84,803.73ZM371,658L383.5,658L383.5,659L371,659ZM382.5,658.03L386.55,657.76L386.55,658.76L382.5,659.03ZM385.55,657.91L389.19,657.04L389.19,658.04L385.55,658.91ZM388.19,657.4L391.42,655.86L391.42,656.86L388.19,658.4ZM390.42,656.5L393.25,654.22L393.25,655.22L390.42,657.5ZM394.05,652.73L395.05,652.73L392.87,655.62L391.87,655.62ZM394.91,650.41L395.91,650.41L394.45,653.73L393.45,653.73ZM395.41,647.66L396.41,647.66L395.58,651.41L394.58,651.41ZM395.53,644.5L396.53,644.5L396.27,648.66L395.27,648.66ZM395.5,630L396.5,630L396.5,645.5L395.5,645.5ZM395.5,630L466,630L466,631L395.5,631ZM465,630L466,630L466,680.9L465,680.9ZM465.5,679.9L466.5,679.9L423.6,723L422.6,723ZM371,658L372,658L372,723L371,723ZM408.5,567L466,567L466,568L408.5,568ZM465,567L466,567L466,631L465,631ZM364.5,611.91L396.5,630.29L396.5,631.29L364.5,612.91ZM408.99,567L409.99,567L365.01,613.2L364.01,613.2ZM305.5,521L493,521L493,522L305.5,522ZM492,521L493,521L493,556L492,556ZM479.5,554.48L493,555.02L493,556.02L479.5,555.48ZM465,567.43L480.5,554.07L480.5,555.07L465,568.43ZM321.63,554.5L322.63,554.5L365.87,613.2L364.87,613.2ZM305.25,521L306.25,521L323.25,555.5L322.25,555.5ZM271.5,432L603.8,432L603.8,433L271.5,433ZM586,447.8L587,447.8L587,451L586,451ZM535,450L587,450L587,451L535,451ZM535,450L536,450L536,482L535,482ZM492,481L536,481L536,482L492,482ZM492,481L493,481L493,522L492,522ZM271.31,432L272.31,432L306.69,522L305.69,522ZM535,481L536,481L536,506L535,506ZM535,505L587,505L587,506L535,506ZM613,531L614,531L614,556L613,556ZM492,555L614,555L614,556L492,556ZM492,481L493,481L493,556L492,556ZM586,450L587,450L587,506L586,506ZM535,450L536,450L536,506L535,506ZM479.25,554.71L614,555L614,556L479.25,555.71ZM613,555L614,555L614,587L613,587ZM613.49,586L614.49,586L596.01,605L595.01,605ZM465,604L596.5,604L596.5,605L465,605ZM465,567L466,567L466,605L465,605ZM465,567.43L480.25,554.28L480.25,555.28L465,568.43ZM834.63,424.2L835.63,424.2L867.27,458L866.27,458ZM865.49,457L866.49,457L870.81,464L869.81,464ZM869.28,463L870.28,463L894.02,516L893.02,516ZM744.5,515L893.8,515L893.8,516L744.5,516ZM707.5,480.54L745.5,515.46L745.5,516.46L707.5,481.54ZM707.5,481L722.1,481L722.1,482L707.5,482ZM892.56,515L893.56,515L904.04,537.2L903.04,537.2ZM902.62,536.2L903.62,536.2L928.28,605L927.28,605ZM804,604L928.1,604L928.1,605L804,605ZM799.91,582.7L800.91,582.7L805.09,605L804.09,605ZM789.85,562.6L790.85,562.6L801.25,583.7L800.25,583.7ZM775.2,547.82L791.1,563.08L791.1,564.08L775.2,548.82ZM757.5,540.28L776.2,548.52L776.2,549.52L757.5,541.28ZM740.5,536.38L758.5,540.62L758.5,541.62L740.5,537.38ZM744.59,515L745.59,515L741.41,537.5L740.41,537.5ZM706.5,536.5L707.5,536.5L707.5,556L706.5,556ZM706.5,536.5L741.5,536.5L741.5,537.5L706.5,537.5ZM595.5,604L805,604L805,605L595.5,605ZM613,586L665,586L665,587L613,587ZM664,555L665,555L665,587L664,587ZM664,531L665,531L665,587L664,587ZM613,531L614,531L614,587L613,587ZM465,604L642,604L642,605L465,605ZM641,604L642,604L642,652L641,652ZM465,651L642,651L642,652L465,652ZM465,604L466,604L466,652L465,652ZM641,604L830,604L830,605L641,605ZM829,604L830,604L830,652L829,652ZM641,651L830,651L830,652L641,652ZM465,651L664,651L664,652L465,652ZM663,651L664,651L664,675.9L663,675.9ZM507,722.4L664,674.75L664,675.75L507,723.4ZM464.5,679.9L465.5,679.9L508.5,723.25L507.5,723.25ZM465,651L466,651L466,680.9L465,680.9ZM663,651L830,651L830,652L663,652ZM829,651L830,651L830,702L829,702ZM663,701L830,701L830,702L663,702ZM663,651L664,651L664,702L663,702ZM663,674.9L664,674.9L664,702L663,702ZM599,765L664,700.5L664,701.5L599,766ZM548.9,764.5L600,764.5L600,765.5L548.9,765.5ZM506.5,722.25L507.5,722.25L550.4,765.5L549.4,765.5ZM464.5,679.9L465.5,679.9L550.4,765.5L549.4,765.5ZM466,764.5L549.9,764.5L549.9,765.5L466,765.5ZM466,764.5L600,764.5L600,765.5L466,765.5ZM599,764.5L600,764.5L600,842L599,842ZM466,841L600,841L600,842L466,842ZM466,764.5L467,764.5L467,842L466,842ZM829,701L830,701L830,746.1L829,746.1ZM599,801.12L830,744.98L830,745.98L599,802.12ZM599,764.5L600,764.5L600,802L599,802ZM829,745.1L830,745.1L830,788.3L829,788.3ZM750.5,841.34L830,786.96L830,787.96L750.5,842.34ZM599,841L751.5,841L751.5,842L599,842ZM599,801L600,801L600,842L599,842ZM405.3,826.38L467,841.12L467,842.12L405.3,827.38ZM466,841L633,841L633,842L466,842ZM632,841L633,841L633,908.5L632,908.5ZM599.5,906.08L633,907.52L633,908.52L599.5,907.08ZM519.5,900.87L600.5,906.13L600.5,907.13L519.5,901.87ZM487.5,899.48L520.5,900.92L520.5,901.92L487.5,900.48ZM440.3,896.47L488.5,899.53L488.5,900.53L440.3,897.47ZM418.2,894.25L441.3,896.55L441.3,897.55L418.2,895.25ZM405.5,892.43L419.2,894.37L419.2,895.37L405.5,893.43ZM352.9,878.67L406.5,892.63L406.5,893.63L352.9,879.67ZM632,841L751.5,841L751.5,842L632,842ZM750.25,841L751.25,841L779.95,899.1L778.95,899.1ZM717.3,906.87L779.7,898.03L779.7,899.03L717.3,907.87ZM642.1,907.5L718.3,906.8L718.3,907.8L642.1,908.5ZM632,907.5L643.1,907.5L643.1,908.5L632,908.5ZM829,786.81L889.2,845.99L889.2,846.99L829,787.81ZM778.7,898.34L889.2,845.26L889.2,846.26L778.7,899.34ZM829,604L928.1,604L928.1,605L829,605ZM926.73,604L927.73,604L930.88,608.2L929.88,608.2ZM929.34,607.2L930.34,607.2L934.96,622L933.96,622ZM933.7,621L934.7,621L954.5,717L953.5,717ZM829,716L954.4,716L954.4,717L829,717ZM829,604L830,604L830,717L829,717ZM953.27,716L954.27,716L967.83,768.5L966.83,768.5ZM888.2,846L967.7,767L967.7,768L888.2,847ZM829,716L830,716L830,788.3L829,788.3ZM1074.95,547L1075.95,547L1073.45,570.5L1072.45,570.5ZM1072.57,569.5L1073.57,569.5L1065.83,625.8L1064.83,625.8ZM1065,624.8L1066,624.8L1060.8,650.3L1059.8,650.3ZM1002.8,592.51L1060.9,649.79L1060.9,650.79L1002.8,593.51ZM989,593L1003.8,593L1003.8,594L989,594ZM974.54,547L975.54,547L990.16,594L989.16,594ZM1060.06,649.3L1061.06,649.3L1044.34,702.2L1043.34,702.2ZM1043.99,701.2L1044.99,701.2L1024.01,722.5L1023.01,722.5ZM1021.04,723.08L1024.5,721.23L1024.5,722.23L1021.04,724.08ZM1018.66,723.95L1022.04,722.61L1022.04,723.61L1018.66,724.95ZM1016.35,724.43L1019.66,723.63L1019.66,724.63L1016.35,725.43ZM1014.12,724.54L1017.35,724.27L1017.35,725.27L1014.12,725.54ZM1011.98,724.27L1015.12,724.54L1015.12,725.54L1011.98,725.27ZM1009.91,723.61L1012.98,724.45L1012.98,725.45L1009.91,724.61ZM1007.91,722.57L1010.91,723.99L1010.91,724.99L1007.91,723.57ZM1006,721.16L1008.91,723.15L1008.91,724.15L1006,722.16ZM1004.84,720.19L1005.84,720.19L1007.32,722.5L1006.32,722.5ZM1004.11,718.75L1005.11,718.75L1006.43,721.19L1005.43,721.19ZM1003.43,717.19L1004.43,717.19L1005.61,719.75L1004.61,719.75ZM1002.8,715.5L1003.8,715.5L1004.86,718.19L1003.86,718.19ZM1002.25,713.69L1003.25,713.69L1004.16,716.5L1003.16,716.5ZM1001.74,711.75L1002.74,711.75L1003.55,714.69L1002.55,714.69ZM1001.3,709.69L1002.3,709.69L1002.99,712.75L1001.99,712.75ZM1000.91,707.5L1001.91,707.5L1002.5,710.69L1001.5,710.69ZM988.93,619.5L989.93,619.5L1002.07,708.5L1001.07,708.5ZM989,593L990,593L990,620.5L989,620.5ZM242,937L330,937L330,938L242,938ZM329,937L330,937L330,1010L329,1010ZM242,1009L330,1009L330,1010L242,1010ZM242,937L243,937L243,1010L242,1010ZM329,937L423,937L423,938L329,938ZM422,937L423,937L423,1010L422,1010ZM329,1009L423,1009L423,1010L329,1010ZM-1.5,912L0.5,912L0.5,913L-1.5,913ZM-0.5,911.99L7.12,912.18L7.12,913.18L-0.5,912.99ZM6.12,912.13L13.72,912.72L13.72,913.72L6.12,913.13ZM12.72,912.61L20.29,913.61L20.29,914.61L12.72,913.61ZM19.29,913.45L26.8,914.82L26.8,915.82L19.29,914.45ZM25.8,914.61L33.24,916.38L33.24,917.38L25.8,915.61ZM32.24,916.11L39.59,918.27L39.59,919.27L32.24,917.11ZM38.59,917.95L45.83,920.47L45.83,921.47L38.59,918.95ZM44.83,920.09L51.95,923.02L51.95,924.02L44.83,921.09ZM50.95,922.58L57.93,925.85L57.93,926.85L50.95,923.58ZM56.93,925.35L63.75,929.02L63.75,930.02L56.93,926.35ZM62.75,928.45L69.4,932.47L69.4,933.47L62.75,929.45ZM68.4,931.83L74.85,936.21L74.85,937.21L68.4,932.83ZM73.85,935.49L80.11,940.24L80.11,941.24L73.85,936.49ZM79.11,939.44L85.15,944.53L85.15,945.53L79.11,940.44ZM84.15,943.64L89.95,949.08L89.95,950.08L84.15,944.64ZM88.47,948.61L89.47,948.61L94.99,954.36L93.99,954.36ZM93.08,953.36L94.08,953.36L99.24,959.33L98.24,959.33ZM97.42,958.33L98.42,958.33L103.23,964.53L102.23,964.53ZM101.49,963.53L102.49,963.53L106.94,969.92L105.94,969.92ZM105.28,968.92L106.28,968.92L110.36,975.5L109.36,975.5ZM108.78,974.5L109.78,974.5L113.48,981.25L112.48,981.25ZM111.97,980.25L112.97,980.25L116.3,987.16L115.3,987.16ZM114.85,986.16L115.85,986.16L118.81,993.2L117.81,993.2ZM117.42,992.2L118.42,992.2L120.99,999.37L119.99,999.37ZM119.66,998.37L120.66,998.37L122.84,1005.65L121.84,1005.65ZM121.57,1004.65L122.57,1004.65L124.36,1012.01L123.36,1012.01ZM123.15,1011.01L124.15,1011.01L125.53,1018.45L124.53,1018.45ZM124.37,1017.45L125.37,1017.45L126.38,1024.93L125.38,1024.93ZM125.27,1023.93L126.27,1023.93L126.87,1031.46L125.87,1031.46ZM125.82,1030.46L126.82,1030.46L127.01,1038L126.01,1038ZM-1.5,1037L127,1037L127,1038L-1.5,1038ZM-1.5,912L-0.5,912L-0.5,1038L-1.5,1038ZM394.91,432L395.91,432L399.09,450L398.09,450ZM397.76,449L398.76,449L406.54,465L405.54,465ZM404.98,464L405.98,464L414.82,478L413.82,478ZM413.01,477L414.01,477L425.59,488.8L424.59,488.8ZM424.1,487.58L441.5,495.22L441.5,496.22L424.1,488.58ZM440.5,494.88L459.5,499.62L459.5,500.62L440.5,495.88Z"/>
<path d="M493,481.5 A39,37.2 0 0 0 493,556 Z" fill="#000" shape-rendering="crispEdges"/>
<path d="M707,481.5 A39.3,37.2 0 0 1 707,556 Z" fill="#000" shape-rendering="crispEdges"/>
<path class="sl" d="M0.5,0 V1037 M0,0.5 H1200 M1199.5,0 V1037 M0,1036.5 H1200"/>
<polygon points="208,337.5 215.5,344.2 215.5,340 230.8,340 230.8,344.2 238.3,337.5 230.8,330.8 230.8,335 215.5,335 215.5,330.8" fill="#000" shape-rendering="crispEdges"/>
<polygon points="252.5,554.5 260,561.2 260,557 304,557 304,561.2 311.5,554.5 304,547.8 304,552 260,552 260,547.8" fill="#000" shape-rendering="crispEdges"/>
<polygon points="358.6,653.2 367.9,651.9 365.1,649.2 378.9,635.6 381.7,638.4 383.1,629.1 373.8,630.4 376.6,633.1 362.8,646.7 360,643.9" fill="#000" shape-rendering="crispEdges"/>
<polygon points="816.4,408.3 825.7,407.1 823,404.3 838.6,389.3 841.3,392.1 842.8,382.9 833.5,384.1 836.2,386.9 820.6,401.9 817.9,399.1" fill="#000" shape-rendering="crispEdges"/>
<polygon points="888.8,482.5 896.3,489.2 896.3,485 939.6,485 939.6,489.2 947.1,482.5 939.6,475.8 939.6,480 896.3,480 896.3,475.8" fill="#000" shape-rendering="crispEdges"/>
<polygon points="961,699.5 968.5,706.2 968.5,702 983.5,702 983.5,706.2 991,699.5 983.5,692.8 983.5,697 968.5,697 968.5,692.8" fill="#000" shape-rendering="crispEdges"/>
<g class="ar">
<polyline stroke="#f9f92f" points="119,288.8 168,390.3"/>
<polyline stroke="#f9f92f" points="150.4,350.2 150,321.4"/>
<polyline stroke="#f9f92f" points="150.4,350.2 127.8,332.7"/>
<polyline stroke="#f9f92f" points="338.8,477.5 431.6,472.5"/>
<polyline stroke="#f9f92f" points="422.8,473 392.2,461.3"/>
<polyline stroke="#f9f92f" points="422.8,473 394,488.6"/>
<polyline stroke="#f9f92f" points="454.7,476.7 555,530"/>
<polyline stroke="#f9f92f" points="511,506.8 495,485"/>
<polyline stroke="#f9f92f" points="511,506.8 485,505.6"/>
<polyline stroke="#f9f92f" points="667.5,518.3 596.7,467.5"/>
<polyline stroke="#f9f92f" points="628,489 652,492"/>
<polyline stroke="#f9f92f" points="628,489 641,515"/>
<polyline stroke="#f9f92f" points="955.8,460 820,468.3"/>
<polyline stroke="#f9f92f" points="872.5,465 901.7,450"/>
<polyline stroke="#f9f92f" points="872.5,465 903.3,475.8"/>
<polyline stroke="#f9f92f" points="1159.4,674 1091.7,693.7"/>
<polyline stroke="#f9f92f" points="1121.8,684 1142.4,664"/>
<polyline stroke="#f9f92f" points="1121.8,684 1150.6,690.4"/>
<polyline stroke="#f9f92f" points="1074,757 1037.8,907.3"/>
<polyline stroke="#f9f92f" points="1054,843.4 1046.6,816.3"/>
<polyline stroke="#f9f92f" points="1054,843.4 1073.4,822.6"/>
<polyline stroke="#c6279f" points="464.5,452.3 514.3,415.9"/>
<polyline stroke="#c6279f" points="514.3,415.9 483,421.7"/>
<polyline stroke="#c6279f" points="514.3,415.9 499.2,443.5"/>
</g>
<g class="cx">
<polyline points="1048.4,807 1081,796.5"/>
<polyline points="1052.9,787 1076.7,814.6"/>
</g>
<use href="#sc" x="448" y="159"/>
<use href="#sc" x="628" y="154"/>
<use href="#sc" x="697" y="250"/>
<use href="#sc" x="943" y="41"/>
<use href="#sc" x="1189" y="8"/>
<use href="#sc" x="258" y="272"/>
<use href="#sc" x="518" y="363"/>
<use href="#sc" x="732" y="333"/>
<use href="#sc" x="1008" y="334"/>
<use href="#sc" x="198" y="427"/>
<use href="#sc" x="421" y="450"/>
<use href="#sc" x="502" y="495"/>
<use href="#sc" x="753" y="492"/>
<use href="#sc" x="973" y="482"/>
<use href="#sc" x="689" y="540"/>
<use href="#sc" x="683" y="590"/>
<use href="#sc" x="422" y="547"/>
<use href="#sc" x="231" y="563"/>
<use href="#sc" x="188" y="708"/>
<use href="#sc" x="460" y="696"/>
<use href="#sc" x="494" y="778"/>
<use href="#sc" x="813" y="677"/>
<use href="#sc" x="1002" y="607"/>
<use href="#sc" x="948" y="762"/>
<use href="#sc" x="572" y="880"/>
<use href="#sc" x="743" y="870"/>
<use href="#sc" x="255" y="952"/>
<use href="#sc" x="8" y="1027"/>
<use href="#st" x="704.5" y="861.3"/>
<use href="#st" x="659.5" y="246.3"/>
<rect class="b" x="103.5" y="256.5" width="24" height="22" fill="#a4c499"/>
<rect class="b" x="74.5" y="428.5" width="24" height="22" fill="#c48f85"/>
<rect class="b" x="928.5" y="553.5" width="24" height="22" fill="#c48f85"/>
<rect class="b" x="1100.5" y="568.5" width="24" height="22" fill="#a4c499"/>
<rect class="b" x="1157.5" y="649.5" width="24" height="22" fill="#a4c499"/>
<rect class="b" x="1065.5" y="726.5" width="24" height="22" fill="#c48f85"/>
<rect class="b" x="1081.5" y="898.5" width="24" height="22" fill="#c48f85"/>
<use href="#tk" x="159" y="366"/>
<use href="#tk" x="159" y="446"/>
<use href="#tk" x="506" y="402"/>
<use href="#tk" x="431" y="462"/>
<use href="#tk" x="312" y="470"/>
<use href="#tk" x="546" y="462"/>
<use href="#tk" x="756" y="442"/>
<use href="#tk" x="820" y="471"/>
<use href="#tk" x="1021" y="408"/>
<use href="#tk" x="956" y="452"/>
<use href="#tk" x="341" y="547"/>
<use href="#tk" x="523" y="571"/>
<use href="#tk" x="401" y="663"/>
<use href="#tk" x="504" y="517"/>
<use href="#tk" x="661" y="517"/>
<use href="#tk" x="622" y="544"/>
<use href="#tk" x="734" y="571"/>
<use href="#tk" x="858" y="557"/>
<use href="#tk" x="676" y="862"/>
<use href="#tk" x="631" y="247"/>
<use href="#sh" x="103" y="267"/>
<use href="#sh" x="74" y="439"/>
<use href="#sh" x="928" y="564"/>
<use href="#sh" x="1058" y="571"/>
<use href="#sh" x="1100" y="579"/>
<use href="#sh" x="1157" y="660"/>
<use href="#sh" x="1065" y="737"/>
<use href="#sh" x="1081" y="909"/>
<g class="cx">
<polyline points="829.2,505 863.3,509.2"/>
<polyline points="833.3,520.8 855,495.8"/>
</g>
<g class="ar">
<polyline stroke="#2ec400" points="1027.8,421.7 971.4,459.2"/>
<polyline stroke="#2ec400" points="967.7,431 996.5,471.8"/>
<polyline stroke="#2ec400" points="550.6,579 734,579"/>
<polyline stroke="#2ec400" points="705,555.5 705,604.5"/>
<polyline stroke="#2ec400" points="928,563.3 835,478.3"/>
<polyline stroke="#2ec400" points="868.3,556.7 836.7,480"/>
<polyline stroke="#2ec400" points="819.2,505 873.3,480"/>
<polyline stroke="#2ec400" points="842.5,557.5 886.7,537.5"/>
<polyline stroke="#2ec400" points="1070.4,591.4 1076.5,745"/>
<polyline stroke="#2ec400" points="1051,715 1100.5,712.5"/>
<polyline stroke="#c42000" points="60,565.6 84,459"/>
<polyline stroke="#c42000" points="84,459 64,485.6"/>
<polyline stroke="#c42000" points="84,459 90.7,490"/>
<polyline stroke="#c42000" points="170.4,525.5 172,462.5"/>
<polyline stroke="#c42000" points="172,462.5 158,487.5"/>
<polyline stroke="#c42000" points="172,462.5 185,488"/>
<polyline stroke="#c42000" points="172.5,455 173.5,383"/>
<polyline stroke="#c42000" points="173.5,383 158,409.6"/>
<polyline stroke="#c42000" points="173.5,383 187.5,409.6"/>
<polyline stroke="#c42000" points="235,605.2 343.9,559.6"/>
<polyline stroke="#c42000" points="343.9,559.6 313,557.6"/>
<polyline stroke="#c42000" points="343.9,559.6 322.6,581.4"/>
<polyline stroke="#c42000" points="491.7,749.8 422,679.1"/>
<polyline stroke="#c42000" points="422,679.1 450.4,689.2"/>
<polyline stroke="#c42000" points="422,679.1 430.8,706.7"/>
<polyline stroke="#c42000" points="546,470 460,470"/>
<polyline stroke="#c42000" points="460,470 484,457.5"/>
<polyline stroke="#c42000" points="460,470 484,483"/>
<polyline stroke="#c42000" points="671,456 575,466"/>
<polyline stroke="#c42000" points="575,466 596.7,450.8"/>
<polyline stroke="#c42000" points="575,466 600,478.7"/>
<polyline stroke="#c42000" points="624,548.3 533,527"/>
<polyline stroke="#c42000" points="533,527 560,520.8"/>
<polyline stroke="#c42000" points="533,527 547.5,539.2"/>
<polyline stroke="#c42000" points="781.7,455 834.2,478.3"/>
<polyline stroke="#c42000" points="834.2,478.3 808.3,453.3"/>
<polyline stroke="#c42000" points="834.2,478.3 797.5,475.8"/>
<polyline stroke="#c42000" points="1110,599 1077.4,746.8"/>
<polyline stroke="#c42000" points="1080.5,730.5 1073,702.5"/>
<polyline stroke="#c42000" points="1080.5,730.5 1100.5,708.5"/>
<polyline stroke="#c42000" points="930,891 1080.5,917.4"/>
<polyline stroke="#c42000" points="1080.5,917.4 1052,898"/>
<polyline stroke="#c42000" points="1080.5,917.4 1047,925.6"/>
</g>
<g class="cx">
<polyline points="481.7,474 481.7,508"/>
<polyline points="467,500 497.5,480"/>
<polyline points="589.2,526.7 601.7,559.2"/>
<polyline points="611.7,530.8 583.3,555"/>
<polyline points="791,442 791,476.5"/>
<polyline points="777.5,470 805.8,447.5"/>
<polyline points="1084.7,646.6 1116.8,637.3"/>
<polyline points="1089.7,632.8 1113,655.3"/>
</g>
<use href="#bm" x="180" y="358"/>
<use href="#bm" x="453" y="454"/>
<g class="lb">
<g class="t">
<text x="24 34 42 48 56 67 75 83 88 101 109 117" y="137">Nordwestmeer</text>
<text x="195 203 211 219 228 236 240 244 248 260 268 276" y="179">Fungali-Meer</text>
<text x="371 380 388 392 401 407 419 427 436" y="37">Polarmeer</text>
<text x="523 532 540 548 556 560 566 579 587 595" y="102">Cobaltmeer</text>
<text x="476 480 488 497 505 512 517 525 534" y="182">Jadestadt</text>
<text x="346 356 364 372 376 380 389 397 404" y="213">Qualinost</text>
<text x="414 418 427 434 441 449 458 466 470" y="253">Jossangia</text>
<text x="585 593 600 609 613 621 628 635 639 649 655 663 671 679 688 696 702" y="184">Schloss Gruenburg</text>
<text x="622 632 637 646 654 662 670 678 682" y="227">Gruenheim</text>
<text x="798 806 810 815 819 827 836" y="89">Elfland</text>
<text x="860 868 873" y="238">Eld</text>
<text x="890 900 908 913 921" y="90">Helom</text>
<text x="985 995 1003 1009 1017 1025 1032 1038 1050 1058 1066" y="116">Nordostmeer</text>
<text x="1132 1141 1149 1157 1165" y="82">Conno</text>
<text x="1028 1038 1045 1053 1061 1069 1074 1081 1090 1098 1102 1112 1120 1128" y="232">Ozean von Doom</text>
<text x="272 281 289 297 306 314 318 324" y="306">Candolti</text>
<text x="83 93 101 105 110 114 121 129" y="327">Golf von</text>
<text x="87 97 105 116 124" y="341">Gawan</text>
<text x="9 18 26 31 36 44" y="375">Kaltes</text>
<text x="13 25 33 41" y="389">Meer</text>
<text x="77 88 96 104" y="411">Meer</text>
<text x="67 75 83 91 95 104 113" y="425">von Uuz</text>
<text x="159 169 177 188 196" y="401">Gawar</text>
<text x="208 218 226 232 240 244 252" y="394">Gorkion</text>
<text x="217 225 233 237 242" y="408">delta</text>
<text x="136 146 154 160 168 176" y="483">Heronn</text>
<text x="428 436 440 447 455 463" y="311">Elchen</text>
<text x="386 395 403" y="365">Tel</text>
<text x="558 569 577 583" y="336">Nari</text>
<text x="560 571 576" y="375">Olk</text>
<text x="386 394 402 410 419 423 432 440 446 450 464 468 476 483 491" y="416">Land der Wiesel</text>
<text x="297 307 316 322 330 339" y="420">Gurand</text>
<text x="462 472 480 486 491 499 505 513 521" y="460">Norterend</text>
<text x="547 556 565" y="499">Skr</text>
<text x="317 325 333 342 350 354 360 366 373 382 386 394 401 409" y="509">Saphirschlucht</text>
<text x="748 757 765 771 779 787 795 802 809 813" y="280">Caraveccia</text>
<text x="690 699 708 716 724" y="299">Yokai</text>
<text x="857 866 872 880" y="325">Utar</text>
<text x="749 758 770 778 786" y="394">Amphi</text>
<text x="685 695 704 713" y="415">Hugl</text>
<text x="741 749 756 769 777 781 789 797 805" y="431">Esmaladan</text>
<text x="829 837 850 857 863 871 879 888" y="413">Smaragd-</text>
<text x="843 852 860 866 874" y="427">Bucht</text>
<text x="595 609 613 617 626 634 638" y="462">Wildall</text>
<text x="617 627 634 640 648 656 662" y="500">Ostberg</text>
<text x="767 779 787 791 795 803" y="506">Mellar</text>
<text x="951 960 968 974" y="327">Kath</text>
<text x="975 984 988 996 1003 1011 1020 1028 1036 1040" y="376">Riesenheim</text>
<text x="1083 1092 1100 1112 1119 1123 1131 1138 1144 1149 1157 1164 1171" y="385">Kamalastrasse</text>
<text x="932 941 947 951 959 967" y="423">Bridon</text>
<text x="1119 1127 1134 1138 1145 1153" y="491">Teisee</text>
<text x="913 922 930 937 945" y="512">Bucht</text>
<text x="921 929 936" y="526">des</text>
<text x="909 919 925 931 939 947" y="541">Ostens</text>
<text x="154 163 171 177 185 189" y="555">Korbia</text>
<text x="25 34 43 49 57 69 77 86" y="602">Borkmeer</text>
<text x="220 229 234 242 250 257" y="634">Arkoon</text>
<text x="147 156 164 169 173 181 187 195 203 211" y="665">Verlorenes</text>
<text x="165 173 181 190" y="678">Land</text>
<text x="39 49 57 63 67 76 84 92 100 108 117" y="750">Doringkanal</text>
<text x="212 221 229 237 243 251 263 275 283 291 299" y="769">Kentommenai</text>
<text x="253 265 269 274 280 288 292" y="528">Mittel-</text>
<text x="249 257 265 271 279 283 291" y="542">gorkion</text>
<text x="345 355 364 373 381" y="579">Nabai</text>
<text x="417 427 436 444" y="594">Nogk</text>
<text x="478 488 493 497 501" y="584">Hills</text>
<text x="505 518 526 533 539 547 555 561" y="548">Westberg</text>
<text x="307 316 324 329 337 345 352 360" y="634">Rotbucht</text>
<text x="480 490 496 505" y="631">Urur</text>
<text x="403 412 420 426 435 443" y="653">Barana</text>
<text x="479 488 496 504 512 520 528 532 541 549 553 561" y="677">Chapablublek</text>
<text x="299 308 316 324 329 337 346" y="729">Charaua</text>
<text x="441 452 465 469" y="733">Qwil</text>
<text x="552 562 566 570 574 583 590 595" y="754">Nilldall</text>
<text x="791 801 809 816 822 829 836 844 848 857 864 872" y="545">Obstschlucht</text>
<text x="626 634 643" y="579">Eun</text>
<text x="693 702 710 719" y="580">Sund</text>
<text x="745 753 761 770 778 784 789 797 801" y="635">Feuerfeld</text>
<text x="671 681 689 698 702 711 719" y="683">Neu Rom</text>
<text x="622 631 640 648 652 661 669 680 688" y="768">Kaaldewaa</text>
<text x="870 880 886 891 899" y="704">Orlon</text>
<text x="1007 1016 1024 1032" y="538">Bynn</text>
<text x="1007 1018 1029 1038 1047" y="568">Gwaul</text>
<text x="1081 1090 1098 1106 1111 1118 1124" y="616">Kupfer-</text>
<text x="1087 1096 1104 1110 1116" y="630">Küste</text>
<text x="935 944 952 960 968 975 979 987" y="639">Rodesion</text>
<text x="947 957 964 968 974" y="653">Delta</text>
<text x="1006 1015 1019 1026" y="688">Pirh</text>
<text x="1157 1165 1169 1174 1181" y="699">Altes</text>
<text x="1155 1167 1175 1183" y="712">Meer</text>
<text x="1041 1051 1059 1063 1068 1072 1080 1088 1096 1101 1109 1113 1119" y="778">Golf von Pirh</text>
<text x="99 109 117 121 126 130 137 145 154 158 167 171 175 183" y="877">Golf von Ailea</text>
<text x="115 124 132 140 149 160 168 175 181 193 201 210" y="942">Suedwestmeer</text>
<text x="29 38 47 53 65" y="1018">Corws</text>
<text x="268 277 285 292 300" y="994">Abaun</text>
<text x="391 399 407 413 418 426 434 438" y="805">Sottovia</text>
<text x="479 488 496 502 510 518 522" y="827">Rotheim</text>
<text x="326 335 339 342 350" y="854">Ailea</text>
<text x="401 409 413 422 430 438 446 454 460 468 477 482" y="873">Zinnoberburg</text>
<text x="480 487 491 497 505 509 518 530 537 545" y="962">Lithiumsee</text>
<text x="342 352 358 366 375 383 387" y="994">Ornheim</text>
<text x="541 551 559 567 579 587 596" y="1014">Daxmeer</text>
<text x="632 643 651 660 666 675 678 690 698 707 711 718" y="829">Mouchimoglou</text>
<text x="774 783 791 803 811 817 821" y="863">Samyria</text>
<text x="650 659 667 672 684 688 697 703 709 717 725" y="892">Karminstadt</text>
<text x="780 788 794 802 806 815 823 831 839 847 855 860 872 880 888" y="944">Froidevaux-Meer</text>
<text x="857 865 873 880 886 894 900 904" y="799">Losteria</text>
<text x="1037 1045 1054 1061 1070 1078 1085 1090 1102 1110 1118" y="1001">Suedostmeer</text>
</g>
</g>
<g class="lb2">
<g class="ts">
<text x="134 139 149 156" y="424">(wc)</text>
<text x="199 204 210 216" y="483">(ec)</text>
<text x="213 218 225 232" y="537">(ec)</text>
<text x="126 131 141 148" y="579">(wc)</text>
<text x="1049 1054 1061 1068" y="469">(ec)</text>
<text x="975 980 990 996" y="542">(wc)</text>
<text x="988 993 1003 1009" y="590">(wc)</text>
<text x="1040 1045 1052 1058" y="626">(ec)</text>
</g>
</g>
</svg></body></html>
